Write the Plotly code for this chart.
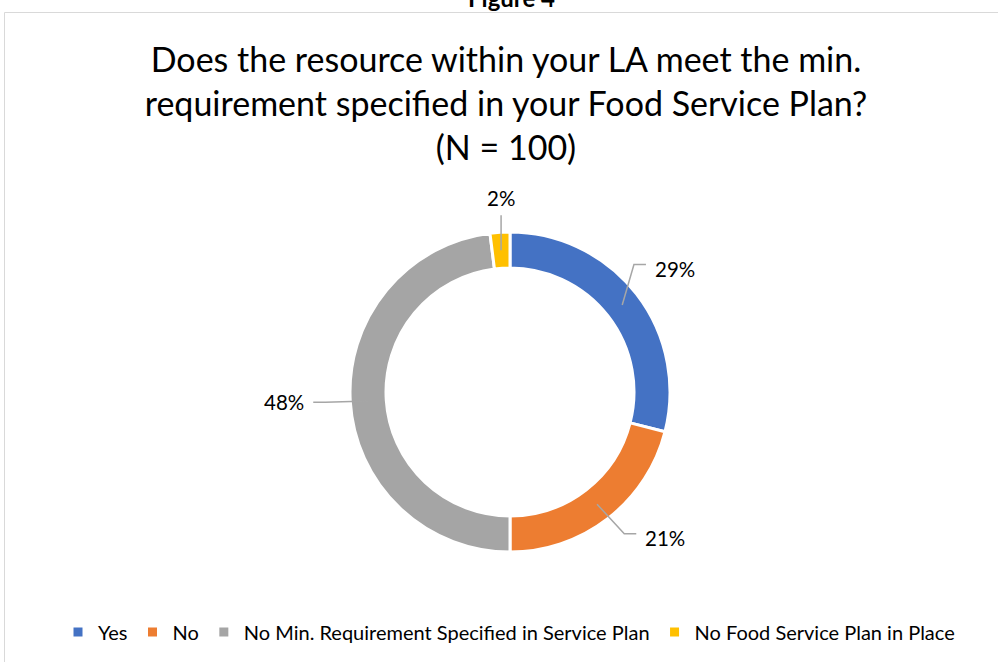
import math
import plotly.graph_objects as go

# ---- data ----
categories = ["Yes", "No", "No Min. Requirement Specified in Service Plan", "No Food Service Plan in Place"]
values = [29, 21, 48, 2]
colors = ["#4472C4", "#ED7D31", "#A5A5A5", "#FFC000"]
title_text = "Does the resource within your LA meet the min.<br>requirement specified in your Food Service Plan?<br>(N = 100)"
figure_caption = "Figure 4"

# ---- layout / style ----
W, H = 998, 662
CX, CY, R = 510, 392, 160          # donut centre and outer radius (px)
HOLE = 0.775
FONT = "Lato"
# label placement style: (radius px, angle nudge deg) per slice
label_style = [(206, 1), (213, -9), (226, 1), (194, 1)]


def px(x, y):
    return x / W, 1 - y / H


fig = go.Figure()
fig.add_trace(go.Pie(
    labels=categories, values=values, hole=HOLE, sort=False,
    direction="clockwise", rotation=0,
    marker=dict(colors=colors, line=dict(color="white", width=3)),
    textinfo="none", hoverinfo="label+percent",
    domain=dict(x=[(CX - R) / W, (CX + R) / W], y=[1 - (CY + R) / H, 1 - (CY - R) / H]),
))

total = sum(values)
cum = 0
shapes = []
annotations = []
rmid = R * (1 + HOLE) / 2
for v, (rl, nudge) in zip(values, label_style):
    mid = (cum + v / 2) / total * 360
    cum += v
    a = math.radians(mid)
    p0 = (CX + rmid * math.sin(a), CY - rmid * math.cos(a))
    al = math.radians(mid + nudge)
    lx, ly = CX + rl * math.sin(al), CY - rl * math.cos(al)
    pct = f"{round(v / total * 100)}%"
    if abs(math.sin(al)) < 0.3:  # top/bottom label
        p1 = (p0[0], ly + 17)
        pts = [p0, p1]
    else:
        side = 1 if math.sin(al) > 0 else -1
        half = 23
        p2 = (lx - side * (half + 6), ly - 4 * (1 if abs(math.cos(al)) > 0.3 else 0))
        p1 = (p2[0] - side * 12, p2[1])
        pts = [p0, p1, p2]
    path = "M " + " L ".join(f"{px(*p)[0]},{px(*p)[1]}" for p in pts)
    shapes.append(dict(type="path", path=path, xref="paper", yref="paper",
                       line=dict(color="#A6A6A6", width=1.5)))
    x, y = px(lx, ly)
    annotations.append(dict(text=pct, x=x, y=y, xref="paper", yref="paper",
                            showarrow=False, xanchor="center", yanchor="middle",
                            font=dict(family=FONT, size=20.5, color="#000000")))

# chart border
shapes.append(dict(type="rect", xref="paper", yref="paper",
                   x0=4.5 / W, x1=1.02, y0=-0.02, y1=1 - 12.5 / H,
                   line=dict(color="#D9D9D9", width=1), layer="below"))

annotations.append(dict(text=f"<b>{figure_caption}</b>", x=511 / W, y=1 - 14 / H,
                        xref="paper", yref="paper", showarrow=False,
                        xanchor="center", yanchor="bottom",
                        font=dict(family=FONT, size=24, color="#000000")))

fig.update_layout(
    width=W, height=H,
    margin=dict(l=0, r=0, t=0, b=0),
    paper_bgcolor="white", plot_bgcolor="white",
    font=dict(family=FONT, color="#000000"),
    title=dict(text=title_text, x=506 / W, xanchor="center",
               y=1 - 72 / H, yanchor="top", yref="container",
               font=dict(family=FONT, size=34, color="#000000")),
    showlegend=True,
    legend=dict(orientation="h", x=509 / W, xanchor="center",
                y=1 - 632 / H, yanchor="middle",
                font=dict(family=FONT, size=20, color="#000000"),
                itemwidth=30, traceorder="normal"),
    shapes=shapes, annotations=annotations,
)

fig.write_html("out.html")
